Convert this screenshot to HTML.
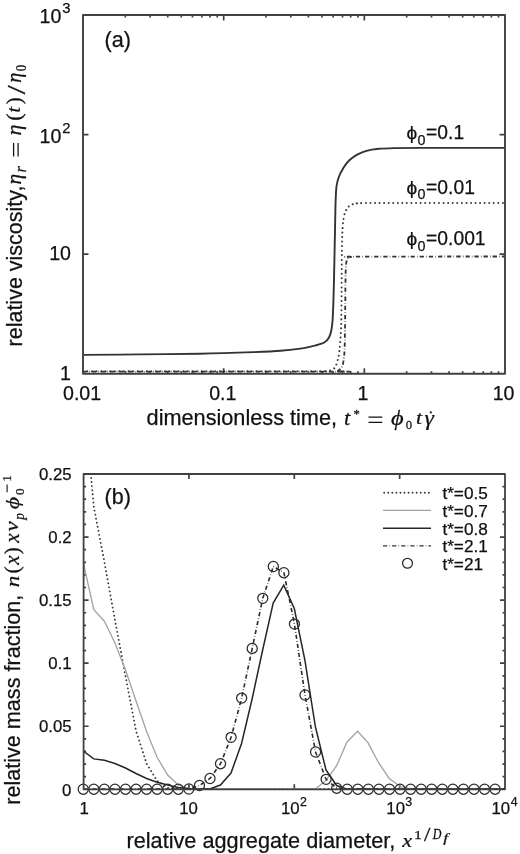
<!DOCTYPE html>
<html><head><meta charset="utf-8"><style>
html,body{margin:0;padding:0;background:#fff;width:520px;height:854px;overflow:hidden}
svg{display:block;font-family:"Liberation Sans",sans-serif;filter:grayscale(1)}
text{stroke:#111;stroke-width:0.25px;stroke-linejoin:round}
</style></head><body>
<svg width="520" height="854" viewBox="0 0 520 854"><path d="M125.34,373.80v-2.60M125.34,15.00v2.60M150.12,373.80v-2.60M150.12,15.00v2.60M167.69,373.80v-2.60M167.69,15.00v2.60M181.32,373.80v-2.60M181.32,15.00v2.60M192.46,373.80v-2.60M192.46,15.00v2.60M201.88,373.80v-2.60M201.88,15.00v2.60M210.03,373.80v-2.60M210.03,15.00v2.60M217.23,373.80v-2.60M217.23,15.00v2.60M223.67,373.80v-5.50M223.67,15.00v5.50M266.01,373.80v-2.60M266.01,15.00v2.60M290.78,373.80v-2.60M290.78,15.00v2.60M308.36,373.80v-2.60M308.36,15.00v2.60M321.99,373.80v-2.60M321.99,15.00v2.60M333.13,373.80v-2.60M333.13,15.00v2.60M342.54,373.80v-2.60M342.54,15.00v2.60M350.70,373.80v-2.60M350.70,15.00v2.60M357.90,373.80v-2.60M357.90,15.00v2.60M364.33,373.80v-5.50M364.33,15.00v5.50M406.68,373.80v-2.60M406.68,15.00v2.60M431.45,373.80v-2.60M431.45,15.00v2.60M449.02,373.80v-2.60M449.02,15.00v2.60M462.66,373.80v-2.60M462.66,15.00v2.60M473.79,373.80v-2.60M473.79,15.00v2.60M483.21,373.80v-2.60M483.21,15.00v2.60M491.37,373.80v-2.60M491.37,15.00v2.60M498.56,373.80v-2.60M498.56,15.00v2.60M83.00,254.20h5.5M505.00,254.20h-5.5M83.00,134.60h5.5M505.00,134.60h-5.5" stroke="#404040" stroke-width="1.7" fill="none"/>
<path d="M83.00,354.90 C92.50,354.82 120.50,354.60 140.00,354.40 C159.50,354.20 181.03,354.08 200.00,353.70 C218.97,353.32 240.33,352.58 253.80,352.10 C267.27,351.62 272.72,351.42 280.80,350.80 C288.88,350.18 296.47,349.30 302.30,348.40 C308.13,347.50 312.08,346.42 315.80,345.40 C319.52,344.38 322.40,343.62 324.60,342.30 C326.80,340.98 327.90,339.38 329.00,337.50 C330.10,335.62 330.60,333.92 331.20,331.00 C331.80,328.08 332.20,326.00 332.60,320.00 C333.00,314.00 333.30,305.00 333.60,295.00 C333.90,285.00 334.17,270.83 334.40,260.00 C334.63,249.17 334.85,237.50 335.00,230.00 C335.15,222.50 335.20,219.75 335.30,215.00 C335.40,210.25 335.40,206.25 335.60,201.50 C335.80,196.75 335.97,190.58 336.50,186.50 C337.03,182.42 337.63,180.13 338.80,177.00 C339.97,173.87 341.70,170.53 343.50,167.70 C345.30,164.87 347.30,162.18 349.60,160.00 C351.90,157.82 354.48,156.13 357.30,154.60 C360.12,153.07 362.92,151.77 366.50,150.80 C370.08,149.83 374.22,149.25 378.80,148.80 C383.38,148.35 387.13,148.25 394.00,148.10 C400.87,147.95 401.50,147.93 420.00,147.90 C438.50,147.87 490.83,147.90 505.00,147.90" stroke="#333" stroke-width="1.9" fill="none"/>
<path d="M83.00,371.30 C119.17,371.30 259.73,371.32 300.00,371.30 C340.27,371.28 319.73,371.28 324.60,371.20 C329.47,371.12 327.85,371.13 329.20,370.80 C330.55,370.47 331.67,369.85 332.70,369.20 C333.73,368.55 334.52,368.57 335.40,366.90 C336.28,365.23 337.33,361.88 338.00,359.20 C338.67,356.52 339.02,353.87 339.40,350.80 C339.78,347.73 340.05,344.02 340.30,340.80 C340.55,337.58 340.73,334.97 340.90,331.50 C341.07,328.03 341.18,326.92 341.30,320.00 C341.42,313.08 341.52,300.00 341.60,290.00 C341.68,280.00 341.72,268.33 341.80,260.00 C341.88,251.67 341.97,245.33 342.10,240.00 C342.23,234.67 342.35,231.58 342.60,228.00 C342.85,224.42 343.12,221.25 343.60,218.50 C344.08,215.75 344.68,213.45 345.50,211.50 C346.32,209.55 347.33,207.98 348.50,206.80 C349.67,205.62 350.92,204.97 352.50,204.40 C354.08,203.83 355.08,203.62 358.00,203.40 C360.92,203.18 345.50,203.15 370.00,203.10 C394.50,203.05 482.50,203.10 505.00,203.10" stroke="#3a3a3a" stroke-width="2.0" fill="none" stroke-dasharray="0.01 4.55" stroke-linecap="round"/>
<path d="M83.00,371.60 C124.17,371.60 287.83,371.65 330.00,371.60 C372.17,371.55 334.58,371.50 336.00,371.30 C337.42,371.10 337.45,371.25 338.50,370.40 C339.55,369.55 341.42,368.18 342.30,366.20 C343.18,364.22 343.42,361.33 343.80,358.50 C344.18,355.67 344.40,353.95 344.60,349.20 C344.80,344.45 344.88,338.20 345.00,330.00 C345.12,321.80 345.22,308.33 345.30,300.00 C345.38,291.67 345.42,285.33 345.50,280.00 C345.58,274.67 345.63,271.08 345.80,268.00 C345.97,264.92 346.13,263.12 346.50,261.50 C346.87,259.88 347.25,259.05 348.00,258.30 C348.75,257.55 349.33,257.28 351.00,257.00 C352.67,256.72 332.33,256.68 358.00,256.60 C383.67,256.52 480.50,256.52 505.00,256.50" stroke="#333" stroke-width="1.8" fill="none" stroke-dasharray="4.2 2.2 0.6 2.1"/>
<rect x="83.00" y="15.00" width="422.00" height="358.80" fill="none" stroke="#404040" stroke-width="1.9" stroke-linejoin="round"/>
<g fill="#111">
<text x="62.99" y="400.20" font-size="19.60" font-family="Liberation Sans">0.01</text>
<text x="209.14" y="400.20" font-size="19.60" font-family="Liberation Sans">0.1</text>
<text x="357.55" y="400.20" font-size="19.60" font-family="Liberation Sans">1</text>
<text x="492.73" y="400.20" font-size="19.60" font-family="Liberation Sans">10</text>
<text x="59.95" y="380.00" font-size="19.60" font-family="Liberation Sans">1</text>
<text x="49.18" y="260.20" font-size="19.60" font-family="Liberation Sans">10</text>
<text x="62.20" y="133.10" font-size="14.80" font-family="Liberation Sans">2</text>
<text x="39.58" y="143.00" font-size="19.60" font-family="Liberation Sans">10</text>
<text x="62.20" y="13.10" font-size="14.80" font-family="Liberation Sans">3</text>
<text x="39.58" y="23.00" font-size="19.60" font-family="Liberation Sans">10</text>
<text x="104.55" y="47.40" font-size="21.60" font-family="Liberation Sans">(a)</text>
<text transform="translate(406.40,138.84) scale(1.041,1)" font-size="18.35" font-family="Liberation Sans" font-style="normal">ϕ</text>
<text x="417.49" y="144.60" font-size="14.3" font-family="Liberation Sans">0</text>
<text x="426.09" y="139.10" font-size="19.30" font-family="Liberation Sans">=0.1</text>
<text transform="translate(406.40,193.64) scale(1.041,1)" font-size="18.35" font-family="Liberation Sans" font-style="normal">ϕ</text>
<text x="417.49" y="199.40" font-size="14.3" font-family="Liberation Sans">0</text>
<text x="426.09" y="193.90" font-size="19.30" font-family="Liberation Sans">=0.01</text>
<text transform="translate(406.40,244.74) scale(1.041,1)" font-size="18.35" font-family="Liberation Sans" font-style="normal">ϕ</text>
<text x="417.49" y="250.50" font-size="14.3" font-family="Liberation Sans">0</text>
<text x="426.09" y="245.00" font-size="19.30" font-family="Liberation Sans">=0.001</text>
<text x="146.58" y="425.00" font-size="21.70" font-family="Liberation Sans">dimensionless time,</text>
<text transform="translate(344.06,424.74) scale(1.020,1)" font-size="22.00" font-family="Liberation Serif" font-style="italic">t</text>
<text transform="translate(353.43,418.33) scale(1.078,1)" font-size="11.73" font-family="Liberation Serif" font-style="normal">*</text>
<path d="M368.5,417.1H382.3M368.5,422.3H382.3" stroke="#111" stroke-width="1.25"/>
<text transform="translate(390.99,425.00) scale(1.223,1)" font-size="19.96" font-family="Liberation Serif" font-style="italic">ϕ</text>
<text transform="translate(405.76,429.12) scale(0.966,1)" font-size="13.19" font-family="Liberation Serif" font-style="normal">0</text>
<text transform="translate(415.98,424.26) scale(1.118,1)" font-size="19.73" font-family="Liberation Serif" font-style="italic">t</text>
<text transform="translate(424.62,424.56) scale(1.106,1)" font-size="21.58" font-family="Liberation Serif" font-style="italic">γ</text>
<circle cx="430.8" cy="412.4" r="1.05"/>
<text transform="translate(21.70,346.45) rotate(-90)" x="0" y="0" font-size="21.50" font-family="Liberation Sans">relative viscosity,</text>
<text transform="translate(21.25,184.51) rotate(-90) scale(1.054,1)" font-size="20.16" font-family="Liberation Serif" font-style="italic">η</text>
<text transform="translate(25.95,172.52) rotate(-90) scale(0.984,1)" font-size="16.77" font-family="Liberation Serif" font-style="italic">r</text>
<path d="M13.6,143.1V156.4M18.1,143.1V156.4" stroke="#111" stroke-width="1.25"/>
<text transform="translate(21.28,135.53) rotate(-90) scale(1.097,1)" font-size="20.01" font-family="Liberation Serif" font-style="italic">η</text>
<text transform="translate(21.11,120.83) rotate(-90) scale(1.065,1)" font-size="20.84" font-family="Liberation Serif" font-style="normal">(</text>
<text transform="translate(20.16,112.42) rotate(-90) scale(1.007,1)" font-size="19.55" font-family="Liberation Serif" font-style="italic">t</text>
<text transform="translate(21.11,104.22) rotate(-90) scale(0.990,1)" font-size="20.84" font-family="Liberation Serif" font-style="normal">)</text>
<text transform="translate(24.59,94.25) rotate(-90) scale(1.252,1)" font-size="26.16" font-family="Liberation Serif" font-style="normal">/</text>
<text transform="translate(21.49,82.87) rotate(-90) scale(0.992,1)" font-size="20.45" font-family="Liberation Serif" font-style="italic">η</text>
<text transform="translate(26.11,71.24) rotate(-90) scale(0.905,1)" font-size="14.08" font-family="Liberation Serif" font-style="normal">0</text>
</g>
<path d="M188.95,789.30v-5M188.95,474.00v5M294.30,789.30v-5M294.30,474.00v5M399.65,789.30v-5M399.65,474.00v5M83.60,776.69h2.50M505.00,776.69h-2.50M83.60,764.08h2.50M505.00,764.08h-2.50M83.60,751.46h2.50M505.00,751.46h-2.50M83.60,738.85h2.50M505.00,738.85h-2.50M83.60,726.24h5.00M505.00,726.24h-5.00M83.60,713.63h2.50M505.00,713.63h-2.50M83.60,701.02h2.50M505.00,701.02h-2.50M83.60,688.40h2.50M505.00,688.40h-2.50M83.60,675.79h2.50M505.00,675.79h-2.50M83.60,663.18h5.00M505.00,663.18h-5.00M83.60,650.57h2.50M505.00,650.57h-2.50M83.60,637.96h2.50M505.00,637.96h-2.50M83.60,625.34h2.50M505.00,625.34h-2.50M83.60,612.73h2.50M505.00,612.73h-2.50M83.60,600.12h5.00M505.00,600.12h-5.00M83.60,587.51h2.50M505.00,587.51h-2.50M83.60,574.90h2.50M505.00,574.90h-2.50M83.60,562.28h2.50M505.00,562.28h-2.50M83.60,549.67h2.50M505.00,549.67h-2.50M83.60,537.06h5.00M505.00,537.06h-5.00M83.60,524.45h2.50M505.00,524.45h-2.50M83.60,511.84h2.50M505.00,511.84h-2.50M83.60,499.22h2.50M505.00,499.22h-2.50M83.60,486.61h2.50M505.00,486.61h-2.50" stroke="#404040" stroke-width="1.7" fill="none"/>
<clipPath id="cb"><rect x="83.60" y="474.00" width="421.40" height="315.30"/></clipPath>
<g clip-path="url(#cb)">
<path d="M83.30,392.00 L93.85,507.00 L104.40,562.00 L114.95,620.00 L125.50,676.00 L136.05,731.00 L146.60,763.50 L157.15,781.00 L167.70,787.80 L178.25,789.00 L505.00,789.00" stroke="#3a3a3a" stroke-width="1.9" fill="none" stroke-dasharray="0.01 4.1" stroke-linecap="round"/>
<path d="M83.30,563.00 L93.85,609.60 L104.40,621.20 L114.95,643.00 L125.50,670.00 L136.05,701.00 L146.60,731.50 L157.15,757.50 L167.70,775.00 L178.25,785.00 L188.80,788.30 L199.35,789.00 L315.40,789.00 L325.95,780.40 L336.50,766.00 L347.05,741.90 L357.60,731.30 L368.15,742.90 L378.70,763.00 L389.25,778.50 L399.80,786.20 L410.35,789.00 L505.00,789.00" stroke="#a4a4a4" stroke-width="1.35" fill="none"/>
<path d="M83.30,751.00 L93.85,758.90 L104.40,760.30 L114.95,763.50 L125.50,768.00 L136.05,773.50 L146.60,778.50 L157.15,782.30 L167.70,785.00 L178.25,787.50 L188.80,788.80 L209.90,789.00 L220.45,785.00 L231.00,773.00 L241.55,743.50 L252.10,699.00 L262.65,650.00 L273.20,603.00 L283.75,585.20 L294.30,608.50 L304.85,660.00 L315.45,727.00 L326.00,770.00 L336.60,785.50 L347.20,789.20 L505.00,789.30" stroke="#262626" stroke-width="1.5" fill="none"/>
<path d="M83.25,789.00 L93.81,789.00 L104.37,789.00 L114.93,789.00 L125.49,789.00 L136.05,789.00 L146.61,789.00 L157.17,789.00 L167.73,789.00 L178.29,789.00 L188.85,789.00 L199.41,785.50 L209.97,778.50 L220.53,763.70 L231.09,737.30 L241.65,698.10 L252.21,648.40 L262.77,598.30 L273.33,566.50 L283.89,572.70 L294.45,624.10 L305.01,695.00 L315.57,752.00 L326.13,779.30 L336.69,788.20 L347.25,789.00 L357.81,789.00 L368.37,789.00 L378.93,789.00 L389.49,789.00 L400.05,789.00 L410.61,789.00 L421.17,789.00 L431.73,789.00 L442.29,789.00 L452.85,789.00 L463.41,789.00 L473.97,789.00 L484.53,789.00 L495.09,789.00 L505.65,789.00" stroke="#2a2a2a" stroke-width="1.6" fill="none" stroke-dasharray="4.2 2.2 0.6 2.1"/>
</g>
<g fill="none" stroke="#2a2a2a" stroke-width="1.25"><circle cx="83.25" cy="789.20" r="5.05"/><circle cx="93.81" cy="789.20" r="5.05"/><circle cx="104.37" cy="789.20" r="5.05"/><circle cx="114.93" cy="789.20" r="5.05"/><circle cx="125.49" cy="789.20" r="5.05"/><circle cx="136.05" cy="789.20" r="5.05"/><circle cx="146.61" cy="789.20" r="5.05"/><circle cx="157.17" cy="789.20" r="5.05"/><circle cx="167.73" cy="789.20" r="5.05"/><circle cx="178.29" cy="789.20" r="5.05"/><circle cx="188.85" cy="789.00" r="5.05"/><circle cx="199.41" cy="785.50" r="5.05"/><circle cx="209.97" cy="778.50" r="5.05"/><circle cx="220.53" cy="763.70" r="5.05"/><circle cx="231.09" cy="737.30" r="5.05"/><circle cx="241.65" cy="698.10" r="5.05"/><circle cx="252.21" cy="648.40" r="5.05"/><circle cx="262.77" cy="598.30" r="5.05"/><circle cx="273.33" cy="566.50" r="5.05"/><circle cx="283.89" cy="572.70" r="5.05"/><circle cx="294.45" cy="624.10" r="5.05"/><circle cx="305.01" cy="695.00" r="5.05"/><circle cx="315.57" cy="752.00" r="5.05"/><circle cx="326.13" cy="779.30" r="5.05"/><circle cx="336.69" cy="788.20" r="5.05"/><circle cx="347.25" cy="789.20" r="5.05"/><circle cx="357.81" cy="789.20" r="5.05"/><circle cx="368.37" cy="789.20" r="5.05"/><circle cx="378.93" cy="789.20" r="5.05"/><circle cx="389.49" cy="789.20" r="5.05"/><circle cx="400.05" cy="789.20" r="5.05"/><circle cx="410.61" cy="789.20" r="5.05"/><circle cx="421.17" cy="789.20" r="5.05"/><circle cx="431.73" cy="789.20" r="5.05"/><circle cx="442.29" cy="789.20" r="5.05"/><circle cx="452.85" cy="789.20" r="5.05"/><circle cx="463.41" cy="789.20" r="5.05"/><circle cx="473.97" cy="789.20" r="5.05"/><circle cx="484.53" cy="789.20" r="5.05"/><circle cx="495.09" cy="789.20" r="5.05"/></g>
<rect x="83.60" y="474.00" width="421.40" height="315.30" fill="none" stroke="#404040" stroke-width="1.8" stroke-linejoin="round"/>
<g fill="#111">
<text x="38.93" y="480.20" font-size="16.80" font-family="Liberation Sans">0.25</text>
<text x="48.34" y="543.26" font-size="16.80" font-family="Liberation Sans">0.2</text>
<text x="38.93" y="606.32" font-size="16.80" font-family="Liberation Sans">0.15</text>
<text x="48.34" y="669.38" font-size="16.80" font-family="Liberation Sans">0.1</text>
<text x="38.93" y="732.44" font-size="16.80" font-family="Liberation Sans">0.05</text>
<text x="62.11" y="795.50" font-size="16.80" font-family="Liberation Sans">0</text>
<text x="79.44" y="813.70" font-size="16.80" font-family="Liberation Sans">1</text>
<text x="179.29" y="813.70" font-size="16.80" font-family="Liberation Sans">10</text>
<text x="281.04" y="813.70" font-size="16.80" font-family="Liberation Sans">10</text>
<text x="299.89" y="805.60" font-size="12.40" font-family="Liberation Sans">2</text>
<text x="386.33" y="813.70" font-size="16.80" font-family="Liberation Sans">10</text>
<text x="405.31" y="805.60" font-size="12.40" font-family="Liberation Sans">3</text>
<text x="491.43" y="813.70" font-size="16.80" font-family="Liberation Sans">10</text>
<text x="510.66" y="805.60" font-size="12.40" font-family="Liberation Sans">4</text>
<text x="104.56" y="503.80" font-size="21.50" font-family="Liberation Sans">(b)</text>
<path d="M384.2,492.80H429.5" fill="none" stroke="#3a3a3a" stroke-width="1.9" stroke-dasharray="0.01 4.05" stroke-linecap="round"/>
<text x="442.41" y="498.80" font-size="17.20" font-family="Liberation Sans">t*=0.5</text>
<path d="M383,510.40H431" fill="none" stroke="#a4a4a4" stroke-width="1.35"/>
<text x="442.41" y="516.70" font-size="17.20" font-family="Liberation Sans">t*=0.7</text>
<path d="M383,528.30H431" fill="none" stroke="#262626" stroke-width="1.5"/>
<text x="442.41" y="534.60" font-size="17.20" font-family="Liberation Sans">t*=0.8</text>
<path d="M383,545.90H431" fill="none" stroke="#333" stroke-width="1.4" stroke-dasharray="4.2 2.2 0.6 2.1"/>
<text x="442.41" y="552.20" font-size="17.20" font-family="Liberation Sans">t*=2.1</text>
<circle cx="407.5" cy="563.20" r="4.95" fill="none" stroke="#2a2a2a" stroke-width="1.25"/>
<text x="442.41" y="570.00" font-size="17.20" font-family="Liberation Sans">t*=21</text>
<text x="126.53" y="847.70" font-size="21.70" font-family="Liberation Sans">relative aggregate diameter,</text>
<text transform="translate(402.32,846.85) scale(1.137,1)" font-size="19.61" font-family="Liberation Serif" font-style="italic">x</text>
<text transform="translate(414.05,839.05) scale(1.221,1)" font-size="13.03" font-family="Liberation Serif" font-style="normal">1</text>
<text transform="translate(423.95,840.62) scale(1.264,1)" font-size="18.09" font-family="Liberation Serif" font-style="normal">/</text>
<text transform="translate(432.83,839.27) scale(0.864,1)" font-size="13.86" font-family="Liberation Serif" font-style="italic">D</text>
<text transform="translate(443.20,842.22) scale(1.450,1)" font-size="12.10" font-family="Liberation Serif" font-style="italic">f</text>
<text transform="translate(19.70,804.76) rotate(-90)" x="0" y="0" font-size="21.60" font-family="Liberation Sans">relative mass fraction, </text>
<text transform="translate(18.95,587.28) rotate(-90) scale(1.187,1)" font-size="19.52" font-family="Liberation Serif" font-style="italic">n</text>
<text transform="translate(18.94,573.51) rotate(-90) scale(1.030,1)" font-size="21.17" font-family="Liberation Serif" font-style="normal">(</text>
<text transform="translate(19.25,564.69) rotate(-90) scale(1.023,1)" font-size="20.70" font-family="Liberation Serif" font-style="italic">x</text>
<text transform="translate(18.94,554.22) rotate(-90) scale(0.975,1)" font-size="21.17" font-family="Liberation Serif" font-style="normal">)</text>
<text transform="translate(18.95,542.69) rotate(-90) scale(1.056,1)" font-size="20.04" font-family="Liberation Serif" font-style="italic">x</text>
<text transform="translate(18.37,531.56) rotate(-90) scale(1.226,1)" font-size="18.77" font-family="Liberation Serif" font-style="italic">v</text>
<text transform="translate(23.50,519.67) rotate(-90) scale(0.925,1)" font-size="14.33" font-family="Liberation Serif" font-style="italic">p</text>
<text transform="translate(18.87,509.20) rotate(-90) scale(1.211,1)" font-size="19.63" font-family="Liberation Serif" font-style="italic">ϕ</text>
<text transform="translate(24.03,494.95) rotate(-90) scale(1.049,1)" font-size="12.60" font-family="Liberation Serif" font-style="normal">0</text>
<path d="M7.1,484.4V492.3" stroke="#111" stroke-width="1.1"/>
<text transform="translate(10.95,481.82) rotate(-90) scale(1.049,1)" font-size="12.72" font-family="Liberation Serif" font-style="normal">1</text>
</g></svg>
</body></html>
